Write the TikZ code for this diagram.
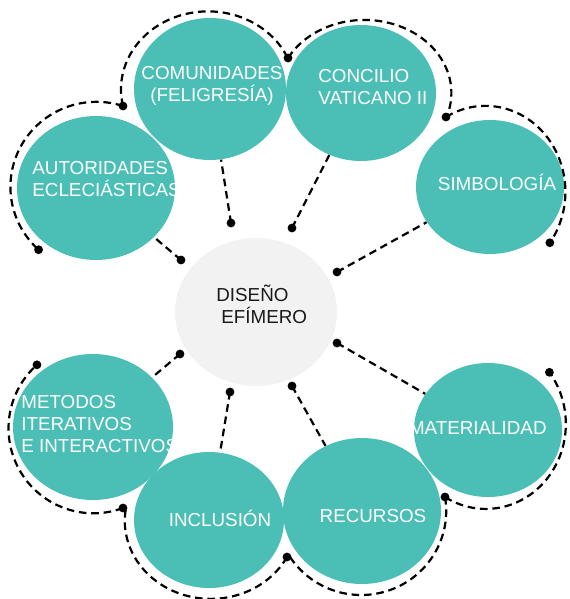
\documentclass[tikz,border=0pt]{standalone}
\usepackage{fontspec}
\setmainfont{Liberation Sans}
\usetikzlibrary{shapes.geometric}
\definecolor{verde}{HTML}{4BBFB6}
\definecolor{gris}{HTML}{F2F2F2}
\begin{document}
\begin{tikzpicture}[x=0.5pt,y=-0.5pt,
  circulo/.style={ellipse,fill=verde,inner sep=0pt},
  texto/.style={text=white,inner sep=0pt,font=\fontsize{9.4}{11}\selectfont},
  enlace/.style={dash pattern=on 3.8pt off 2.4pt,line width=1.1pt}]
\useasboundingbox (0,0) rectangle (569,599);
\node[ellipse,fill=gris,inner sep=0pt,minimum width=81pt,minimum height=74pt] (hub) at (256,312) {};
\node[circulo,minimum width=79pt,minimum height=72pt] (aut) at (96,188) {};
\node[circulo,minimum width=76pt,minimum height=71pt] (comu) at (210,89) {};
\node[circulo,minimum width=75pt,minimum height=68pt] (conc) at (361,93) {};
\node[circulo,minimum width=74pt,minimum height=67pt] (simb) at (490,187) {};
\node[circulo,minimum width=80pt,minimum height=73pt] (meto) at (93,427) {};
\node[circulo,minimum width=75pt,minimum height=68pt] (incl) at (209,520) {};
\node[circulo,minimum width=79pt,minimum height=73pt] (recu) at (362,511) {};
\node[circulo,minimum width=74pt,minimum height=67pt] (mate) at (488,430) {};
\node[texto,align=left,anchor=west] (taut) at (32,179) {AUTORIDADES\\ECLECIÁSTICAS};
\node[texto,align=center] (tcomu) at (212,86) {COMUNIDADES\\(FELIGRESÍA)};
\node[texto,align=left,anchor=west] (tconc) at (318,87) {CONCILIO\\VATICANO II};
\node[texto] (tsimb) at (497,182) {SIMBOLOGÍA};
\node[texto,align=left,anchor=west] (tmeto) at (21,424) {METODOS\\ITERATIVOS\\E INTERACTIVOS};
\node[texto] (tincl) at (220,518) {INCLUSIÓN};
\node[texto] (trecu) at (373,516) {RECURSOS};
\node[texto,anchor=east] (tmate) at (547,428) {MATERIALIDAD};
\node[texto,text=black!90,align=left,anchor=west] (thub) at (216,304) {DISEÑO\\\hspace{2.5pt}EFÍMERO};
\coordinate (ca) at (181,260);
\coordinate (cb) at (231,223);
\coordinate (cc) at (292,228);
\coordinate (cd) at (337,272);
\coordinate (ce) at (180,354);
\coordinate (cf) at (230,392);
\coordinate (cg) at (292,386);
\coordinate (ch) at (337,343);
\draw[enlace] (ca) -- (aut);
\draw[enlace] (cb) -- (comu);
\draw[enlace] (cc) -- (conc);
\draw[enlace] (cd) -- (simb);
\draw[enlace] (ce) -- (meto);
\draw[enlace] (cf) -- (incl);
\draw[enlace] (cg) -- (recu);
\draw[enlace] (ch) -- (mate);
\coordinate (rb) at (123,106);
\coordinate (rc) at (288,58);
\coordinate (rd) at (446,117);
\coordinate (rg) at (445,497);
\coordinate (rh) at (287,557);
\coordinate (ri) at (123,508);
\draw[enlace] (rb) arc[start angle=-72,end angle=-227.7,x radius=86,y radius=85] coordinate (ra);
\draw[enlace] (rb) arc[start angle=167.7,end angle=336.9,x radius=87,y radius=78];
\draw[enlace] (rc) arc[start angle=208.6,end angle=379.2,x radius=87,y radius=73];
\draw[enlace] (rd) arc[start angle=240.5,end angle=396.3,x radius=80,y radius=86] coordinate (re);
\draw[enlace] (rg) arc[start angle=120.7,end angle=-37.4,x radius=80,y radius=85] coordinate (rf);
\draw[enlace] (rg) arc[start angle=-9.6,end angle=148.5,x radius=85,y radius=84];
\draw[enlace] (rh) arc[start angle=27.6,end angle=188.7,x radius=86,y radius=78];
\draw[enlace] (ri) arc[start angle=69.7,end angle=228.3,x radius=85,y radius=85] coordinate (rj);
\foreach \p in {ca,cb,cc,cd,ce,cf,cg,ch,ra,rb,rc,rd,re,rf,rg,rh,ri,rj}
  \fill (\p) circle (2.2pt);
\end{tikzpicture}
\end{document}
